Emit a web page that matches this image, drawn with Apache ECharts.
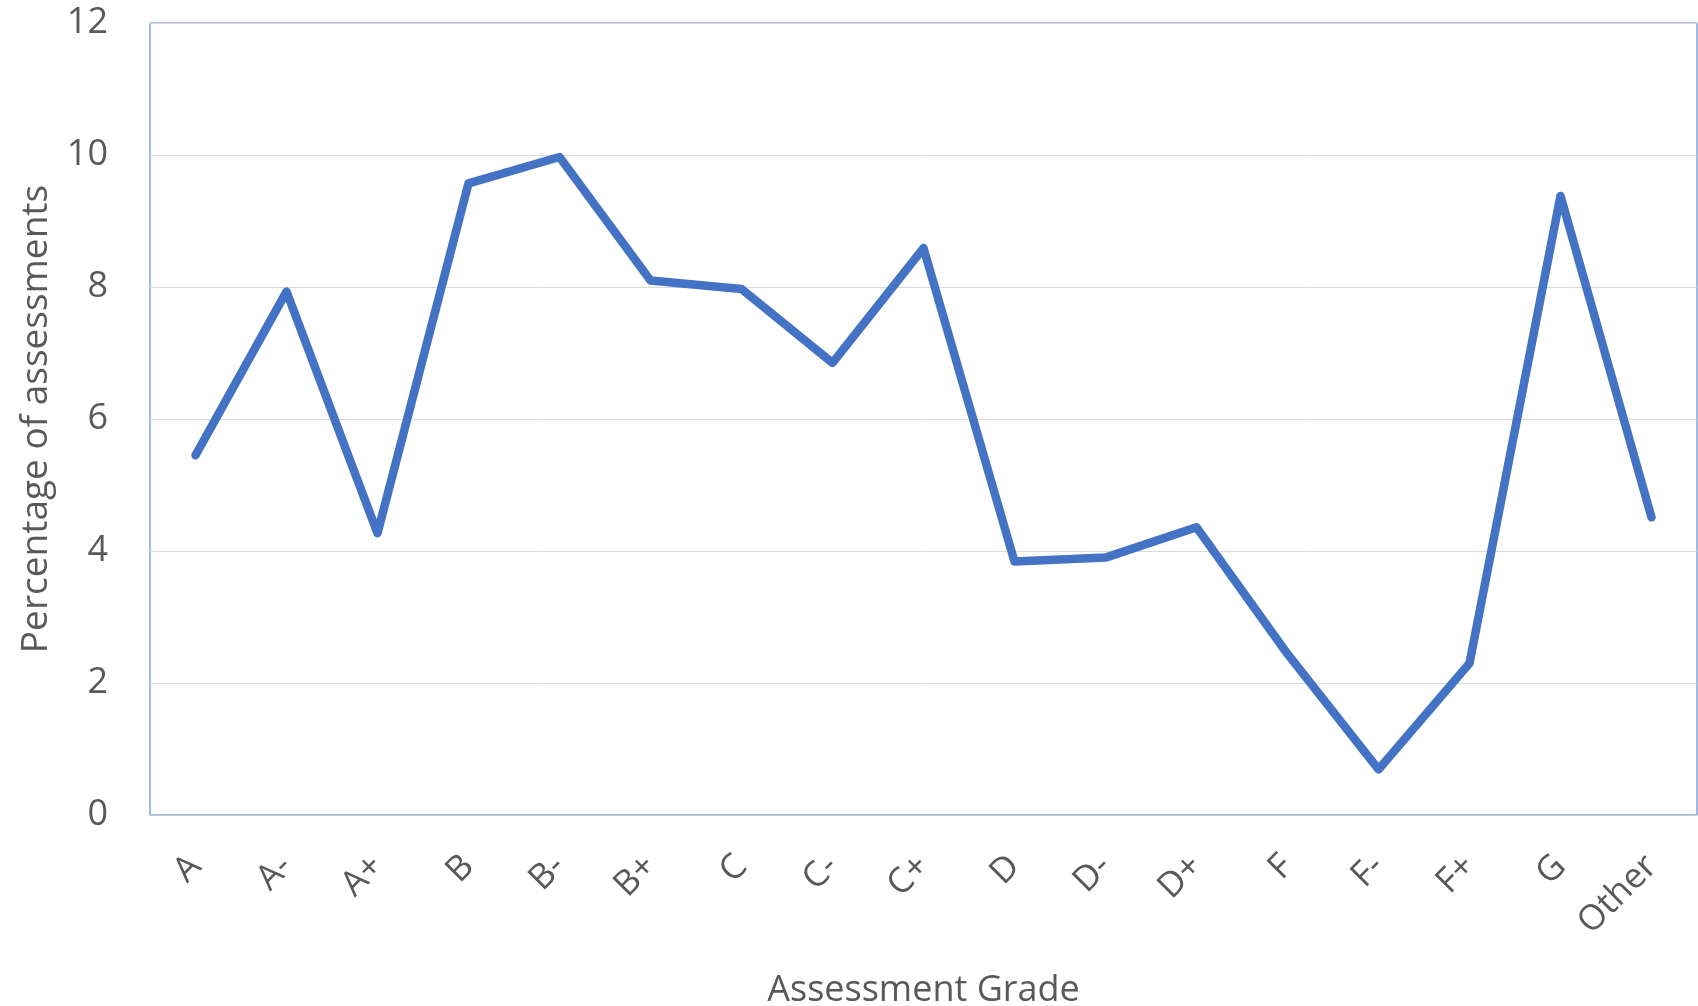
<!DOCTYPE html>
<html>
<head>
<meta charset="utf-8">
<script src="https://cdn.jsdelivr.net/npm/echarts@6/dist/echarts.min.js"></script>
<style>
html,body{margin:0;padding:0;background:#fff;}
#c{width:1698px;height:1006px;}
</style>
</head>
<body>
<div id="c"></div>
<script>
const categories = ['A','A-','A+','B','B-','B+','C','C-','C+','D','D-','D+','F','F-','F+','G','Other'];
const percentages = [5.45, 7.93, 4.27, 9.57, 9.97, 8.10, 7.97, 6.85, 8.59, 3.84, 3.90, 4.36, 2.44, 0.69, 2.30, 9.38, 4.51];
const yTicks = [0, 2, 4, 6, 8, 10, 12];
const xTitle = 'Assessment Grade';
const yTitle = 'Percentage of assessments';

const FONT = '"Open Sans", sans-serif';
const chart = echarts.init(document.getElementById('c'), null, {renderer: 'canvas'});
chart.setOption({
  animation: false,
  backgroundColor: '#ffffff',
  grid: {
    left: 150, right: 1, top: 23, bottom: 191,
    outerBoundsMode: 'none', containLabel: false,
    show: true, borderColor: '#4472C4', borderWidth: 1, backgroundColor: 'transparent'
  },
  xAxis: {
    type: 'category',
    data: categories,
    boundaryGap: true,
    axisLine: {show: true, lineStyle: {color: '#B4C2D8', width: 1.5}},
    axisTick: {show: false},
    axisLabel: {rotate: 45, margin: 46, color: '#595959', fontSize: 35, fontFamily: FONT, interval: 0},
    name: xTitle,
    nameLocation: 'middle',
    nameGap: 158,
    nameTextStyle: {color: '#595959', fontSize: 36, fontFamily: FONT}
  },
  yAxis: {
    type: 'value',
    min: yTicks[0], max: yTicks[yTicks.length - 1], interval: 2,
    axisLine: {show: false},
    axisTick: {show: false},
    splitLine: {show: true, lineStyle: {color: '#D9D9D9', width: 1}},
    axisLabel: {margin: 42, color: '#595959', fontSize: 36, fontFamily: FONT},
    name: yTitle,
    nameLocation: 'middle',
    nameGap: 95,
    nameTextStyle: {color: '#595959', fontSize: 37, fontFamily: FONT}
  },
  series: [{
    type: 'line',
    data: percentages,
    symbol: 'none',
    lineStyle: {color: '#4472C4', width: 8.5, cap: 'round', join: 'round'}
  }]
});
</script>
</body>
</html>
